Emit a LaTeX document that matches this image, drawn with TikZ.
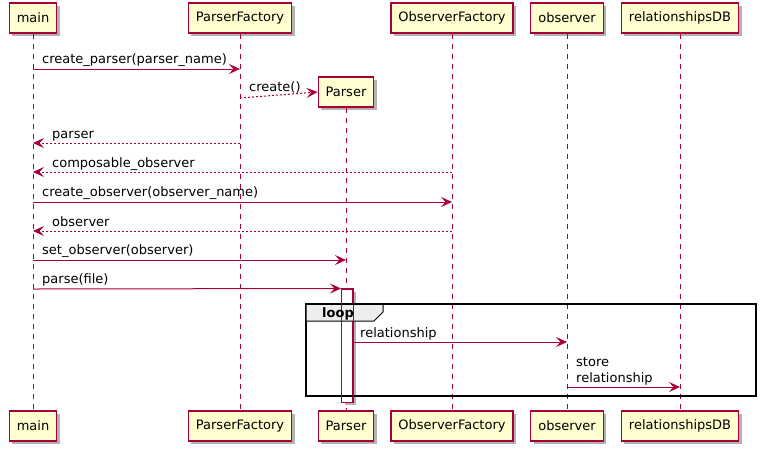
\documentclass[tikz,border=0pt]{standalone}
\usepackage{fontspec}
\setmainfont{DejaVu Sans}
\usetikzlibrary{arrows.meta,shadows}
\definecolor{plred}{HTML}{A80036}
\definecolor{plyellow}{HTML}{FEFECE}
\definecolor{tabgray}{HTML}{EEEEEE}
\tikzset{
  part/.style={draw=plred, fill=plyellow, line width=1.2pt, font=\fontsize{13}{15}\selectfont,
    minimum height=30pt, inner xsep=7.5pt, inner ysep=0pt,
    drop shadow={shadow xshift=3pt, shadow yshift=-3pt, opacity=0.3, fill=black}},
  life/.style={draw=plred, line width=0.8pt, dash pattern=on 5pt off 5pt},
  msg/.style={draw=plred, line width=1pt, -{Stealth[length=11pt,width=10pt,inset=4.5pt]}},
  ret/.style={msg, dash pattern=on 2pt off 2pt},
  lbl/.style={anchor=base west, inner sep=0pt, font=\fontsize{13}{15}\selectfont, text=black},
}
\begin{document}
\begin{tikzpicture}[x=1pt,y=-1pt]
\useasboundingbox (0,0) rectangle (765,451);
% top participants
\node[part] (main) at (33,18) {main};
\node[part] (pf) at (240,18) {ParserFactory};
\node[part] (of) at (452,18) {ObserverFactory};
\node[part] (obs) at (567,18) {observer};
\node[part] (db) at (680,18) {relationshipsDB};
\node[part] (parser) at (346,92) {Parser};
% bottom participants
\node[part] (mainB) at (33,426) {main};
\node[part] (pfB) at (240,426) {ParserFactory};
\node[part] (parserB) at (346,426) {Parser};
\node[part] (ofB) at (452,426) {ObserverFactory};
\node[part] (obsB) at (567,426) {observer};
\node[part] (dbB) at (680,426) {relationshipsDB};
% lifelines
\draw[life] (main.south) -- (mainB.north);
\draw[life] (pf.south) -- (pfB.north);
\draw[life] (parser.south) -- (parserB.north);
\draw[life] (of.south) -- (ofB.north);
\draw[life] (obs.south) -- (obsB.north);
\draw[life] (db.south) -- (dbB.north);
% activation bar
\node[draw=plred, fill=white, line width=1pt, minimum width=11pt, minimum height=113pt, inner sep=0pt,
  drop shadow={shadow xshift=3pt, shadow yshift=-3pt, opacity=0.3, fill=black}] (act) at (347,345.5) {};
% loop frame
\draw[line width=1.6pt] (306,304) rectangle (756,396);
\path[fill=tabgray, draw=black, line width=1pt] (306,304) -- (383,304) -- (383,312) -- (374,321) -- (306,321) -- cycle;
\draw[line width=1.6pt] (306,304) -- (756,304);
\draw[plred, line width=1pt] (act.north west) rectangle (act.south east);
\node[lbl, font=\fontsize{13}{15}\selectfont\bfseries] (looplbl) at (322,317) {loop};
% messages
\draw[msg] (main |- 0,69) -- (pf |- 0,69);
\node[lbl] (m1) at (42,63) {create\_parser(parser\_name)};
\draw[ret] (pf |- 0,98) -- (parser.west);
\node[lbl] (m2) at (249,91) {create()};
\draw[ret] (pf |- 0,143) -- (main |- 0,143);
\node[lbl] (m3) at (52,138) {parser};
\draw[ret] (of |- 0,172) -- (main |- 0,172);
\node[lbl] (m4) at (52,167) {composable\_observer};
\draw[msg] (main |- 0,202) -- (of |- 0,202);
\node[lbl] (m5) at (42,196) {create\_observer(observer\_name)};
\draw[ret] (of |- 0,231) -- (main |- 0,231);
\node[lbl] (m6) at (52,226) {observer};
\draw[msg] (main |- 0,260) -- (parser |- 0,260);
\node[lbl] (m7) at (42,254) {set\_observer(observer)};
\draw[msg] (main |- 0,289) -- (act.north west);
\node[lbl] (m8) at (42,283) {parse(file)};
\draw[msg] (act.east |- 0,342) -- (obs |- 0,342);
\node[lbl] (m9) at (360,337) {relationship};
\draw[msg] (obs |- 0,387) -- (db |- 0,387);
\node[lbl] (m10a) at (576,366) {store};
\node[lbl] (m10b) at (576,382) {relationship};
\end{tikzpicture}
\end{document}
